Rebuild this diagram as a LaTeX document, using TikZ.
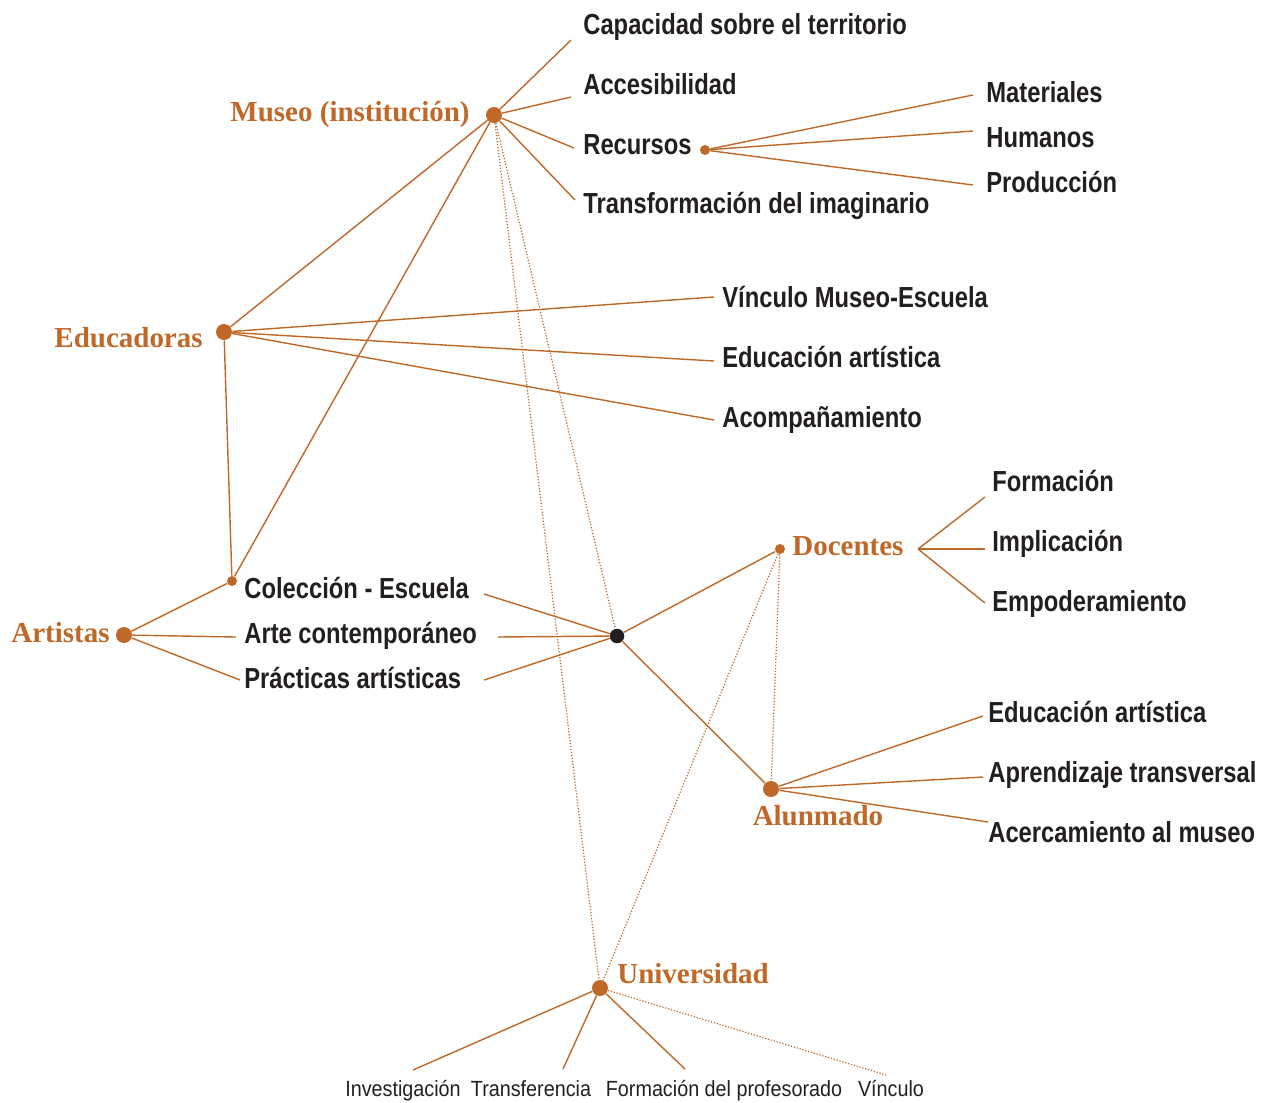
\documentclass[tikz,border=0pt]{standalone}
\usepackage{fontspec}
\setmainfont{Liberation Sans}
\newfontfamily\itemfont[FakeStretch=0.82]{Liberation Sans}
\newfontfamily\headfont{Liberation Serif}
\newfontfamily\notefont[FakeStretch=0.9]{Liberation Sans}

\begin{document}
\begin{tikzpicture}[x=0.02cm, y=-0.02cm,
    head/.style={text=ocre, font=\headfont\bfseries\fontsize{16.5}{18}\selectfont, inner sep=0pt},
    item/.style={text=tinta, font=\itemfont\bfseries\fontsize{16.5}{18}\selectfont, anchor=base west, inner sep=0pt},
    note/.style={text=tinta, font=\notefont\fontsize{12.5}{14}\selectfont, anchor=base, inner sep=0pt},
    dot/.style={circle, fill=ocre, inner sep=0pt, minimum size=0.32cm},
    subdot/.style={dot, minimum size=0.2cm},
    link/.style={draw=ocre, line width=0.8pt},
    weak/.style={draw=ocre, line width=0.7pt, densely dotted}]

    % Colores
    \definecolor{ocre}{RGB}{192,104,40}
    \definecolor{tinta}{RGB}{35,31,32}

    \useasboundingbox (0,0) rectangle (1276,1103);

    % 1. Puntos de los agentes
    \node[dot] (museo) at (494,115) {};
    \node[subdot] (recursos) at (705,150) {};
    \node[dot] (educ) at (224,332) {};
    \node[subdot] (coleccion) at (232,581) {};
    \node[dot] (artistas) at (124,635) {};
    \node[dot, fill=tinta, minimum size=0.29cm] (hub) at (617,636) {};
    \node[subdot] (docentes) at (780,549) {};
    \node[dot] (alumnado) at (771,789) {};
    \node[dot] (univ) at (600,988) {};

    % 2. Nombres de los agentes
    \node[head, anchor=base east] (museo-t) at (470,121) {Museo (institución)};
    \node[head, anchor=base east] (educ-t) at (203,347) {Educadoras};
    \node[head, anchor=base east] (artistas-t) at (110,642) {Artistas};
    \node[head, anchor=base west] (docentes-t) at (792,555) {Docentes};
    \node[head, anchor=base] (alumnado-t) at (818,825) {Alunmado};
    \node[head, anchor=base west] (univ-t) at (617,983) {Universidad};

    % 3. Museo
    \node[item] (cap) at (583,34) {Capacidad sobre el territorio};
    \node[item] (acc) at (583,94) {Accesibilidad};
    \node[item] (rec) at (583,154) {Recursos};
    \node[item] (trans) at (583,213) {Transformación del imaginario};
    \coordinate (c-cap) at (571,40);
    \coordinate (c-acc) at (571,97);
    \coordinate (c-rec) at (574,148);
    \coordinate (c-trans) at (575,200);
    \foreach \t in {cap,acc,rec,trans}
        \draw[link] (museo) -- (c-\t);

    % Recursos
    \node[item] (mat) at (986,102) {Materiales};
    \node[item] (hum) at (986,147) {Humanos};
    \node[item] (prod) at (986,192) {Producción};
    \coordinate (c-mat) at (973,95);
    \coordinate (c-hum) at (973,131);
    \coordinate (c-prod) at (973,185);
    \foreach \t in {mat,hum,prod}
        \draw[link] (recursos) -- (c-\t);

    % 4. Educadoras
    \node[item] (vinc) at (722,307) {Vínculo Museo-Escuela};
    \node[item] (edu) at (722,367) {Educación artística};
    \node[item] (acom) at (722,427) {Acompañamiento};
    \coordinate (c-vinc) at (714,297);
    \coordinate (c-edu) at (714,361);
    \coordinate (c-acom) at (714,420);
    \foreach \t in {vinc,edu,acom}
        \draw[link] (educ) -- (c-\t);
    \draw[link] (museo) -- (educ);
    \draw[link] (museo) -- (coleccion);
    \draw[link] (educ) -- (coleccion);

    % 5. Artistas
    \node[item] (col) at (244,598) {Colección - Escuela};
    \node[item] (arte) at (244,643) {Arte contemporáneo};
    \node[item] (prac) at (244,688) {Prácticas artísticas};
    \coordinate (c-arte) at (236,637);
    \coordinate (c-prac) at (240,680);
    \draw[link] (artistas) -- (coleccion);
    \draw[link] (artistas) -- (c-arte);
    \draw[link] (artistas) -- (c-prac);
    \coordinate (c-col2) at (484,594);
    \coordinate (c-arte2) at (498,637);
    \coordinate (c-prac2) at (484,680);
    \foreach \t in {col2,arte2,prac2}
        \draw[link] (c-\t) -- (hub);
    \draw[link] (hub) -- (docentes);
    \draw[link] (hub) -- (alumnado);

    % 6. Docentes
    \node[item] (form) at (992,491) {Formación};
    \node[item] (impl) at (992,551) {Implicación};
    \node[item] (empo) at (992,611) {Empoderamiento};
    \coordinate (c-fork) at (918,549);
    \coordinate (c-form) at (985,497);
    \coordinate (c-impl) at (985,549);
    \coordinate (c-empo) at (985,603);
    \foreach \t in {form,impl,empo}
        \draw[link] (c-fork) -- (c-\t);

    % 7. Alumnado
    \node[item] (eart) at (988,722) {Educación artística};
    \node[item] (apre) at (988,782) {Aprendizaje transversal};
    \node[item] (acer) at (988,842) {Acercamiento al museo};
    \coordinate (c-eart) at (983,716);
    \coordinate (c-apre) at (983,777);
    \coordinate (c-acer) at (988,822);
    \foreach \t in {eart,apre,acer}
        \draw[link] (alumnado) -- (c-\t);

    % 8. Universidad
    \node[note] (inv) at (403,1096) {Investigación};
    \node[note] (tra) at (531,1096) {Transferencia};
    \node[note] (fpr) at (724,1096) {Formación del profesorado};
    \node[note] (vin) at (891,1096) {Vínculo};
    \coordinate (c-inv) at (413,1070);
    \coordinate (c-tra) at (563,1069);
    \coordinate (c-fpr) at (685,1069);
    \coordinate (c-vin) at (886,1075);
    \foreach \t in {inv,tra,fpr}
        \draw[link] (univ) -- (c-\t);
    \draw[weak] (univ) -- (c-vin);

    % 9. Relaciones débiles (punteadas)
    \draw[weak] (museo) -- (univ);
    \draw[weak] (museo) -- (hub);
    \draw[weak] (docentes) -- (alumnado);
    \draw[weak] (docentes) -- (univ);

\end{tikzpicture}
\end{document}
